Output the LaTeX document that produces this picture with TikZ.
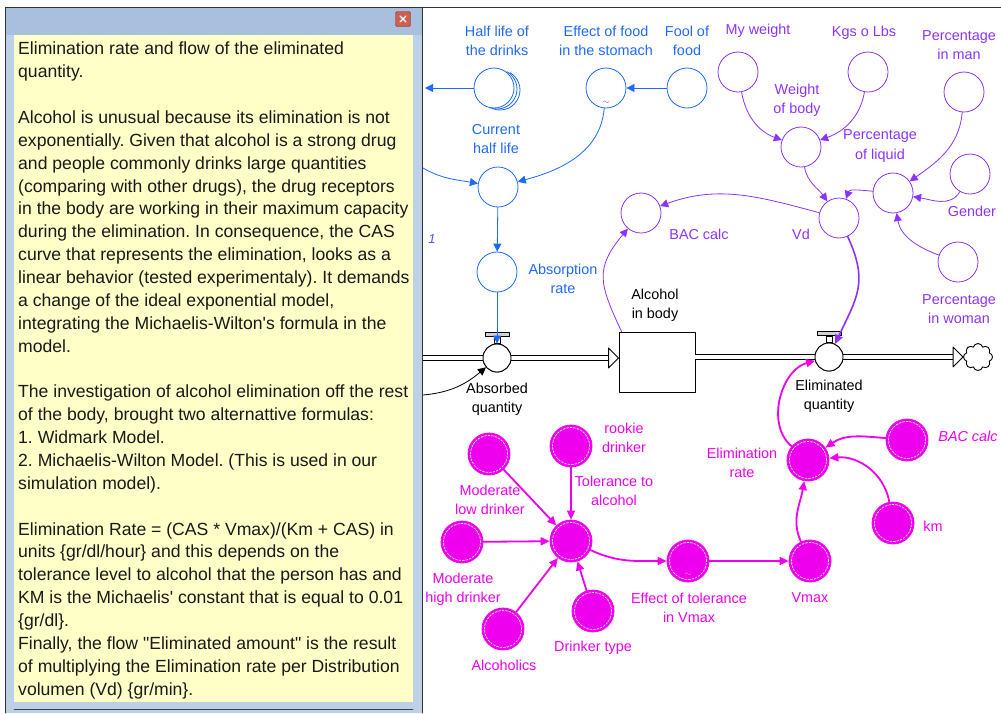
\documentclass[tikz,border=0pt]{standalone}
\usepackage{fontspec}
\setmainfont{Liberation Sans}[Ligatures=TeXOff]
\usetikzlibrary{arrows.meta,shapes.symbols}

\definecolor{vblue}{RGB}{30,105,255}
\definecolor{vpurp}{RGB}{140,50,255}
\definecolor{vmag}{RGB}{238,0,238}
\definecolor{notebg}{RGB}{255,255,200}
\definecolor{framebl}{RGB}{188,208,232}
\definecolor{titlebl}{RGB}{168,192,222}
\definecolor{txtdark}{RGB}{25,25,25}
\definecolor{btnred}{RGB}{205,95,80}
\definecolor{btnedge}{RGB}{140,45,35}

\tikzset{
  var/.style={circle,draw,fill=white,line width=0.8pt,minimum size=40pt,inner sep=0pt},
  magvar/.style={circle,draw=vmag,fill=vmag,line width=0.8pt,minimum size=42pt,inner sep=0pt,
    path picture={\draw[white,line width=0.7pt,dash pattern=on 2pt off 1.5pt]
      (path picture bounding box.center) circle (18.5pt);}},
  valve/.style={circle,draw,fill=white,line width=0.9pt,minimum size=28pt,inner sep=0pt},
  stem/.style={draw,fill=white,line width=0.8pt,minimum width=6pt,minimum height=6pt,inner sep=0pt,anchor=south},
  vbar/.style={draw,fill=gray!35,line width=0.8pt,minimum width=24pt,minimum height=3.5pt,inner sep=0pt,anchor=south},
  lbl/.style={align=center,inner sep=0pt,font=\fontsize{14.4}{19.3}\selectfont},
  link/.style={line width=0.8pt,-{Triangle[length=8pt,width=8pt]}},
  maglink/.style={color=vmag,line width=1.8pt,-{Triangle[length=9pt,width=8pt]}},
  pipe/.style={draw=black,line width=0.9pt,line cap=butt,double=white,double distance=4.5pt},
}

\begin{document}
\frenchspacing
\begin{tikzpicture}[x=1pt,y=-1pt,line cap=round,line join=round]
\useasboundingbox (0,0) rectangle (1001,713);

% note window
\fill[framebl] (5,7) rectangle (422,713);
\fill[titlebl] (5,7) rectangle (422,35);
\fill[notebg] (14,35) rectangle (413,702);
\draw[gray!40!black] (5,713) -- (5,7) -- (1001,7);
\draw[gray!40!black] (422,7) -- (422,713);
\draw[gray!50!black] (14,709) -- (413,709);
\node[draw=btnedge,fill=btnred,rounded corners=1.5pt,minimum width=15pt,minimum height=15pt,inner sep=0pt] (closebtn) at (403,19) {};
\draw[white,line width=1.2pt] ([shift={(-3pt,-3pt)}]closebtn.center) -- ([shift={(3pt,3pt)}]closebtn.center);
\draw[white,line width=1.2pt] ([shift={(-3pt,3pt)}]closebtn.center) -- ([shift={(3pt,-3pt)}]closebtn.center);

\node[anchor=north west,align=left,inner sep=0pt,text=txtdark,
      font=\fontsize{17.6}{22.86}\selectfont] (notes) at (18,42) {%
Elimination rate and flow of the eliminated\\
quantity.\\[22.86pt]
Alcohol is unusual because its elimination is not\\
exponentially. Given that alcohol is a strong drug\\
and people commonly drinks large quantities\\
(comparing with other drugs), the drug receptors\\
in the body are working in their maximum capacity\\
during the elimination. In consequence, the CAS\\
curve that represents the elimination, looks as a\\
linear behavior (tested experimentaly). It demands\\
a change of the ideal exponential model,\\
integrating the Michaelis-Wilton's formula in the\\
model.\\[22.86pt]
The investigation of alcohol elimination off the rest\\
of the body, brought two alternattive formulas:\\
1. Widmark Model.\\
2. Michaelis-Wilton Model. (This is used in our\\
simulation model).\\[22.86pt]
Elimination Rate = (CAS * Vmax)/(Km + CAS) in\\
units \{gr/dl/hour\} and this depends on the\\
tolerance level to alcohol that the person has and\\
KM is the Michaelis' constant that is equal to 0.01\\
\{gr/dl\}.\\
Finally, the flow "Eliminated amount" is the result\\
of multiplying the Elimination rate per Distribution\\
volumen (Vd) \{gr/min\}.};

% stock and flows
\node[draw,fill=white,line width=0.9pt,minimum width=76pt,minimum height=60pt,inner sep=0pt] (body) at (657,362) {};
\node[valve] (v1) at (497,358) {};
\node[valve] (v2) at (829,357) {};
\node[cloud,draw,line width=0.9pt,cloud puffs=8,minimum width=29pt,minimum height=27pt,inner sep=0pt] (sink) at (978,357) {};
\coordinate (src) at (423,358);
\coordinate (in1) at (v1 -| body.west);
\coordinate (out2) at (v2 -| body.east);
\coordinate (in2) at (v2 -| sink.west);
\draw[pipe] (src) -- ([xshift=-10pt]in1);
\draw[pipe] (out2) -- ([xshift=-10pt]in2);
\draw[fill=white,line width=0.9pt] ([shift={(-10pt,10pt)}]in1) -- (in1) -- ([shift={(-10pt,-10pt)}]in1) -- cycle;
\draw[fill=white,line width=0.9pt] ([shift={(-10pt,10pt)}]in2) -- (in2) -- ([shift={(-10pt,-10pt)}]in2) -- cycle;
\node[valve] at (v1) {};
\node[valve] at (v2) {};
\node[stem] (v1stem) at (v1.north) {};
\node[vbar] (v1bar) at (v1stem.north) {};
\node[stem] (v2stem) at (v2.north) {};
\node[vbar] (v2bar) at (v2stem.north) {};

% blue part
\node[var,draw=vblue] (hld) at (494,88) {};
\draw[vblue,line width=0.8pt] ([shift={(3pt,-1pt)}]hld.center) ++(-110:20pt) arc[start angle=-110,end angle=60,radius=20pt];
\draw[vblue,line width=0.8pt] ([shift={(6pt,-2pt)}]hld.center) ++(-110:20pt) arc[start angle=-110,end angle=60,radius=20pt];
\node[var,draw=vblue] (efs) at (606,88) {};
\node[vblue,font=\small] (efstilde) at ([yshift=6pt]efs.south) {$\sim$};
\node[var,draw=vblue] (fof) at (687,88) {};
\node[var,draw=vblue] (chl) at (498,187) {};
\node[var,draw=vblue] (absr) at (497,272) {};
\coordinate (hlout) at (425,88);
\coordinate (hlin) at (423,168);
\coordinate (inflow) at (423,395);
\draw[link,vblue] (hld) -- (hlout);
\draw[link,vblue] (hlin) to[out=-30,in=170] (chl);
\draw[link,vblue] (efs) to[out=-95,in=15] (chl);
\draw[link,vblue] (fof) -- (efs);
\draw[link,vblue] (chl) -- (absr);
\draw[link,vblue] (absr) -- (v1);
\draw[link] (inflow) to[out=5,in=-140] (v1);

\node[lbl,vblue] (hldtxt) at (497,41) {Half life of\\the drinks};
\node[lbl,vblue] (efstxt) at (606,41) {Effect of food\\in the stomach};
\node[lbl,vblue] (foftxt) at (687,41) {Fool of\\food};
\node[lbl,vblue] (chltxt) at (496,139) {Current\\half life};
\node[lbl,vblue] (absrtxt) at (563,279) {Absorption\\rate};
\node[lbl,text=vblue!60!vpurp,font=\fontsize{13}{15}\selectfont\itshape] (onetxt) at (432,239) {1};
\node[lbl] (v1txt) at (497,399) {Absorbed\\quantity};
\node[lbl] (bodytxt) at (655,305) {Alcohol\\in body};
\node[lbl] (v2txt) at (829,396) {Eliminated\\quantity};

% purple part
\node[var,draw=vpurp] (mw) at (738,72) {};
\node[var,draw=vpurp] (kgs) at (868,72) {};
\node[var,draw=vpurp] (pim) at (964,92) {};
\node[var,draw=vpurp] (wob) at (801,147) {};
\node[var,draw=vpurp] (pol) at (893,193) {};
\node[var,draw=vpurp] (gen) at (970,174) {};
\node[var,draw=vpurp] (vd) at (839,218) {};
\node[var,draw=vpurp] (piw) at (958,262) {};
\node[var,draw=vpurp] (bac) at (641,213) {};
\draw[link,vpurp] (mw) to[out=-80,in=160] (wob);
\draw[link,vpurp] (kgs) to[out=-100,in=20] (wob);
\draw[link,vpurp] (wob) to[out=-80,in=125] (vd);
\draw[link,vpurp] (pol) to[out=175,in=70] (vd);
\draw[link,vpurp] (pim) to[out=-95,in=35] (pol);
\draw[link,vpurp] (gen) to[out=-120,in=-10] (pol);
\draw[link,vpurp] (piw) to[out=160,in=-80] (pol);
\draw[link,vpurp] (vd) to[out=165,in=20] (bac);
\draw[link,vpurp] ([xshift=3pt]body.north west) to[out=115,in=-130,looseness=1.3] (bac);
\draw[vpurp,line width=1.6pt,-{Triangle[length=9pt,width=8pt]}] (vd) to[out=-65,in=65,looseness=1.2] (v2);

\node[lbl,vpurp] (mwtxt) at (758,31) {My weight};
\node[lbl,vpurp] (kgstxt) at (864,33) {Kgs o Lbs};
\node[lbl,vpurp] (pimtxt) at (959,45) {Percentage\\in man};
\node[lbl,vpurp] (wobtxt) at (797,100) {Weight\\of body};
\node[lbl,vpurp] (poltxt) at (880,146) {Percentage\\of liquid};
\node[lbl,vpurp] (gentxt) at (972,211) {Gender};
\node[lbl,vpurp] (vdtxt) at (801,234) {Vd};
\node[lbl,vpurp] (bactxt) at (699,234) {BAC calc};
\node[lbl,vpurp] (piwtxt) at (959,309) {Percentage\\in woman};

% magenta part
\node[magvar] (mbac) at (907,440) {};
\node[magvar] (er) at (808,460) {};
\node[magvar] (km) at (893,523) {};
\node[magvar] (vmax) at (810,561) {};
\node[magvar] (etv) at (688,561) {};
\node[white!70!vmag,font=\small] (etvtilde) at ([yshift=8pt]etv.south) {$\sim$};
\node[magvar] (tol) at (571,541) {};
\node[magvar] (rook) at (571,446) {};
\node[magvar] (mld) at (489,454) {};
\node[magvar] (mhd) at (462,542) {};
\node[magvar] (alc) at (503,629) {};
\node[magvar] (dt) at (593,611) {};
\draw[maglink] (mld) -- (tol);
\draw[maglink] (rook) -- (tol);
\draw[maglink] (mhd) -- (tol);
\draw[maglink] (alc) -- (tol);
\draw[maglink] (dt) -- (tol);
\draw[maglink] (tol) to[out=-25,in=180] (etv);
\draw[maglink] (etv) -- (vmax);
\draw[maglink] (vmax) to[out=115,in=-100] (er);
\draw[maglink] (km) to[out=100,in=5] (er);
\draw[maglink] (mbac) to[out=175,in=35] (er);
\draw[maglink] (er) to[out=140,in=-165] (v2);

\node[lbl,vmag,font=\fontsize{14.4}{19.3}\selectfont\itshape] (mbactxt) at (968,436) {BAC calc};
\node[lbl,vmag] (ertxt) at (742,463) {Elimination\\rate};
\node[lbl,vmag] (kmtxt) at (933,526) {km};
\node[lbl,vmag] (vmaxtxt) at (810,598) {Vmax};
\node[lbl,vmag] (etvtxt) at (689,608) {Effect of tolerance\\in Vmax};
\node[lbl,vmag] (toltxt) at (614,491) {Tolerance to\\alcohol};
\node[lbl,vmag] (rooktxt) at (624,438) {rookie\\drinker};
\node[lbl,vmag] (mldtxt) at (490,500) {Moderate\\low drinker};
\node[lbl,vmag] (mhdtxt) at (463,589) {Moderate\\high drinker};
\node[lbl,vmag] (alctxt) at (504,665) {Alcoholics};
\node[lbl,vmag] (dttxt) at (593,648) {Drinker type};
\end{tikzpicture}
\end{document}
